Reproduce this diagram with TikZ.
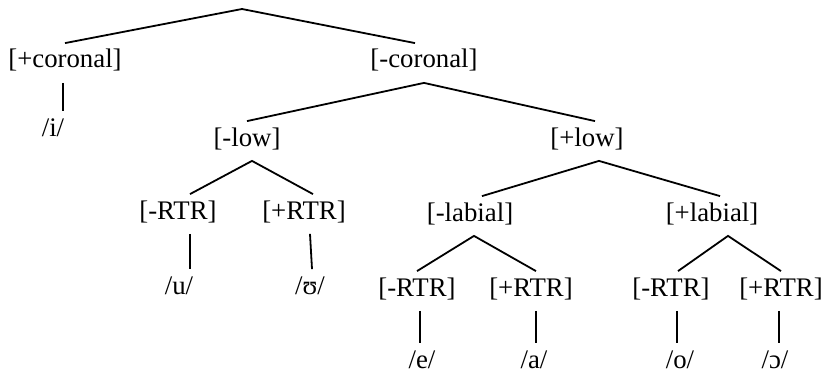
\documentclass[tikz,border=0pt]{standalone}
\usepackage{fontspec}
\setmainfont{Liberation Serif}
\usepackage{tikz}

\begin{document}
\begin{tikzpicture}[x=0.5pt, y=-0.5pt, line width=0.9pt]
                \tikzset{feat/.style={font=\fontsize{13.4}{15}\selectfont, inner xsep=0pt, inner ysep=5pt, text height=0.7em, text depth=0.2em}}
                \useasboundingbox (0,0) rectangle (825,380);

                % ROOT
                \coordinate (root) at (242,9);

                % FEATURES
                \node[feat] (pcor) at (65,63) {[+coronal]};
                \node[feat] (mcor) at (424,63) {[-coronal]};
                \node[feat] (mlow) at (247,141) {[-low]};
                \node[feat] (plow) at (587,141) {[+low]};
                \node[feat] (mrtra) at (178,214) {[-RTR]};
                \node[feat] (prtra) at (304,214) {[+RTR]};
                \node[feat] (mlab) at (470,216) {[-labial]};
                \node[feat] (plab) at (712,216) {[+labial]};
                \node[feat] (mrtrb) at (417,291) {[-RTR]};
                \node[feat] (prtrb) at (531,291) {[+RTR]};
                \node[feat] (mrtrc) at (671,291) {[-RTR]};
                \node[feat] (prtrc) at (781,291) {[+RTR]};

                % SEGMENTS
                \node[feat] (i) at (53,131) {/i/};
                \node[feat] (u) at (179,289) {/u/};
                \node[feat] (uu) at (310,289) {/ʊ/};
                \node[feat] (e) at (422,363) {/e/};
                \node[feat] (a) at (534,363) {/a/};
                \node[feat] (o) at (680,363) {/o/};
                \node[feat] (oo) at (775,363) {/ɔ/};

                % BRANCHES
                \draw (pcor.north) -- (root) -- ([xshift=-4.5pt]mcor.north);
                \draw ([xshift=-1pt]pcor.south) -- ([xshift=5pt]i.north);
                \draw (mlow.north) -- (mcor.south) -- ([xshift=4pt]plow.north);
                \draw ([xshift=6pt]mrtra.north) -- ([xshift=2.5pt]mlow.south) -- ([xshift=4.5pt]prtra.north);
                \draw ([xshift=6pt]mlab.north) -- ([xshift=6pt]plow.south) -- ([xshift=4pt]plab.north);
                \draw (mrtrb.north) -- ([xshift=2pt]mlab.south) -- ([xshift=2.5pt]prtrb.north);
                \draw ([xshift=3.5pt]mrtrc.north) -- ([xshift=8pt]plab.south) -- (prtrc.north);

                % TERMINALS
                \draw ([xshift=6pt]mrtra.south) -- ([xshift=5.5pt]u.north);
                \draw ([xshift=3pt]prtra.south) -- ([xshift=1pt]uu.north);
                \draw ([xshift=1.5pt]mrtrb.south) -- ([xshift=-1pt]e.north);
                \draw ([xshift=2.5pt]prtrb.south) -- ([xshift=1pt]a.north);
                \draw ([xshift=3pt]mrtrc.south) -- ([xshift=-1.5pt]o.north);
                \draw ([xshift=-1pt]prtrc.south) -- ([xshift=2pt]oo.north);

            \end{tikzpicture}
\end{document}
